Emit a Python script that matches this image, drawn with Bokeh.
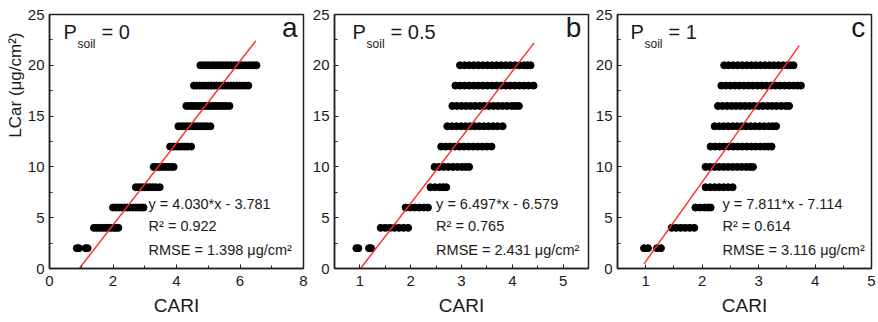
from bokeh.plotting import figure
from bokeh.layouts import row
from bokeh.models import Range1d, SingleIntervalTicker, Label, Title
from bokeh.embed import file_html
from bokeh.resources import INLINE

# ---------------- data ----------------
lcar_levels = [2, 4, 6, 8, 10, 12, 14, 16, 18, 20]

# CARI values per LCar level (rows), panel a (Psoil = 0)
cari_a = [
    [0.86, 0.93, 1.14, 1.20],
    [1.40, 1.49, 1.58, 1.67, 1.76, 1.85, 1.94, 2.03, 2.10, 2.17],
    [2.00, 2.09, 2.18, 2.27, 2.36, 2.45, 2.54, 2.63, 2.72, 2.81, 2.88, 2.96],
    [2.72, 2.81, 2.90, 2.99, 3.08, 3.17, 3.26, 3.35, 3.47],
    [3.28, 3.37, 3.46, 3.55, 3.64, 3.73, 3.82, 3.91],
    [3.80, 3.89, 3.98, 4.07, 4.16, 4.25, 4.34, 4.46],
    [4.06, 4.15, 4.24, 4.33, 4.42, 4.51, 4.60, 4.69, 4.78, 4.87, 4.96, 5.07],
    [4.31, 4.40, 4.49, 4.58, 4.67, 4.76, 4.85, 4.94, 5.03, 5.12, 5.21, 5.30, 5.39, 5.48, 5.57, 5.67],
    [4.55, 4.64, 4.73, 4.82, 4.91, 5.00, 5.09, 5.18, 5.27, 5.36, 5.45, 5.54, 5.63, 5.72, 5.81, 5.90, 5.99, 6.08, 6.17, 6.26],
    [4.75, 4.84, 4.93, 5.02, 5.11, 5.19, 5.28, 5.37, 5.46, 5.55, 5.63, 5.72, 5.81, 5.90, 5.99, 6.08, 6.17, 6.26, 6.35, 6.44, 6.52],
]
# panel b (Psoil = 0.5)
cari_b = [
    [0.93, 0.97, 1.18, 1.22],
    [1.41, 1.50, 1.59, 1.68, 1.77, 1.86, 1.95],
    [1.90, 1.99, 2.08, 2.17, 2.26, 2.34],
    [2.39, 2.48, 2.57, 2.64, 2.70],
    [2.47, 2.56, 2.65, 2.74, 2.83, 2.92, 3.01, 3.08, 3.15],
    [2.60, 2.69, 2.78, 2.87, 2.96, 3.05, 3.14, 3.23, 3.32, 3.41, 3.50, 3.59],
    [2.72, 2.81, 2.90, 2.99, 3.08, 3.17, 3.26, 3.35, 3.44, 3.53, 3.62, 3.71, 3.81],
    [2.82, 2.91, 3.00, 3.09, 3.18, 3.27, 3.36, 3.45, 3.54, 3.63, 3.72, 3.81, 3.90, 3.99, 4.06, 4.13],
    [2.88, 2.97, 3.06, 3.15, 3.24, 3.33, 3.42, 3.51, 3.60, 3.69, 3.78, 3.87, 3.96, 4.05, 4.14, 4.23, 4.32, 4.42],
    [2.97, 3.06, 3.15, 3.24, 3.33, 3.42, 3.51, 3.60, 3.69, 3.78, 3.87, 3.96, 4.05, 4.14, 4.23, 4.30, 4.36],
]
# panel c (Psoil = 1)
cari_c = [
    [0.97, 1.04, 1.20, 1.27],
    [1.46, 1.54, 1.62, 1.70, 1.78, 1.86],
    [1.88, 1.96, 2.04, 2.10, 2.15],
    [2.06, 2.14, 2.22, 2.30, 2.38, 2.46, 2.54],
    [2.06, 2.14, 2.22, 2.30, 2.38, 2.46, 2.54, 2.62, 2.70, 2.78, 2.85, 2.90],
    [2.15, 2.23, 2.31, 2.39, 2.47, 2.55, 2.63, 2.71, 2.79, 2.87, 2.95, 3.03, 3.11, 3.17, 3.23],
    [2.22, 2.30, 2.38, 2.46, 2.54, 2.62, 2.70, 2.78, 2.86, 2.94, 3.02, 3.10, 3.18, 3.25, 3.31],
    [2.28, 2.36, 2.44, 2.52, 2.60, 2.68, 2.76, 2.84, 2.92, 3.00, 3.08, 3.16, 3.24, 3.32, 3.40, 3.48, 3.54],
    [2.34, 2.42, 2.50, 2.58, 2.66, 2.74, 2.82, 2.90, 2.98, 3.06, 3.14, 3.22, 3.30, 3.38, 3.46, 3.54, 3.62, 3.69, 3.75],
    [2.39, 2.47, 2.55, 2.63, 2.71, 2.79, 2.87, 2.95, 3.03, 3.11, 3.19, 3.27, 3.35, 3.43, 3.51, 3.57, 3.62],
]

psoil_labels = ["0", "0.5", "1"]
panel_letters = ["a", "b", "c"]
slopes = [4.030, 6.497, 7.811]
intercepts = [-3.781, -6.579, -7.114]
r2_values = [0.922, 0.765, 0.614]
rmse_values = [1.398, 2.431, 3.116]
fit_x_start = [0.938, 1.013, 0.97]
fit_x_end = [6.50, 4.43, 3.72]

x_ranges = [(0, 8), (0.5, 5.5), (0.5, 5.0)]
x_intervals = [2, 1, 1]

# ---------------- style / layout ----------------
FONT = "Liberation Sans"
TXT = "#1a1a1a"
borders = [(49, 5), (26, 4), (25, 7)]
p_pos = [0.44, 0.856, 0.73]          # x of "P" label (data units)
letter_pos = [7.81, 5.36, 4.89]      # right edge of panel letter
ann_pos = [3.12, 2.5, 2.36]          # left of the regression text


def make_panel(i, rows):
    lb, rb = borders[i]
    p = figure(frame_width=254, frame_height=254, output_backend="svg",
               toolbar_location=None, min_border_left=lb, min_border_right=rb,
               min_border_top=14, min_border_bottom=54,
               x_range=Range1d(*x_ranges[i]), y_range=Range1d(0, 25))
    p.xgrid.visible = False
    p.ygrid.visible = False
    p.outline_line_color = "#222222"
    p.outline_line_width = 1.5
    p.background_fill_color = "white"
    p.border_fill_color = "white"

    p.xaxis.ticker = SingleIntervalTicker(interval=x_intervals[i], num_minor_ticks=2)
    p.yaxis.ticker = SingleIntervalTicker(interval=5, num_minor_ticks=2)
    for ax in (p.xaxis[0], p.yaxis[0]):
        ax.axis_line_color = "#222222"
        ax.axis_line_width = 1.5
        ax.major_tick_in = 4
        ax.major_tick_out = 0
        ax.minor_tick_in = 3
        ax.minor_tick_out = 0
        ax.major_tick_line_color = "#222222"
        ax.minor_tick_line_color = "#222222"
        ax.major_label_text_font = FONT
        ax.major_label_text_font_size = "15px"
        ax.major_label_text_color = TXT
    p.yaxis.major_label_standoff = 5
    p.xaxis.major_label_standoff = 7
    p.xaxis.axis_label = "CARI"
    p.xaxis.axis_label_text_font = FONT
    p.xaxis.axis_label_text_font_size = "19px"
    p.xaxis.axis_label_text_font_style = "normal"
    p.xaxis.axis_label_text_color = TXT
    p.xaxis.axis_label_standoff = 6

    # scatter rows
    xs, ys = [], []
    for lvl, vals in zip(lcar_levels, rows):
        xs.extend(vals)
        ys.extend([lvl] * len(vals))
    p.scatter(xs, ys, size=7, color="black", marker="circle")

    # regression line
    x0, x1 = fit_x_start[i], fit_x_end[i]
    p.line([x0, x1], [slopes[i] * x0 + intercepts[i], slopes[i] * x1 + intercepts[i]],
           line_color="#ff2a2a", line_width=1.4)

    # P_soil label
    p.add_layout(Label(x=p_pos[i], y=22.15, text="P", text_font=FONT,
                       text_font_size="20px", text_color=TXT))
    p.add_layout(Label(x=p_pos[i], y=21.36, x_offset=14, text="soil", text_font=FONT,
                       text_font_size="12px", text_color=TXT))
    p.add_layout(Label(x=p_pos[i], y=22.15, x_offset=38, text="= " + psoil_labels[i],
                       text_font=FONT, text_font_size="20px", text_color=TXT))
    # panel letter
    p.add_layout(Label(x=letter_pos[i], y=22.15, text=panel_letters[i], text_font=FONT,
                       text_font_size="28px", text_color=TXT, text_align="right"))

    # regression text
    sign = "-" if intercepts[i] < 0 else "+"
    lines = [f"y = {slopes[i]:.3f}*x {sign} {abs(intercepts[i]):.3f}",
             f"R² = {r2_values[i]:.3f}",
             f"RMSE = {rmse_values[i]:.3f} μg/cm²"]
    for txt, yy in zip(lines, [5.61, 3.35, 1.08]):
        p.add_layout(Label(x=ann_pos[i], y=yy, text=txt, text_font=FONT,
                           text_font_size="14.5px", text_color=TXT))
    return p


pa = make_panel(0, cari_a)
pb = make_panel(1, cari_b)
pc = make_panel(2, cari_c)

pa.add_layout(Title(text="LCar (μg/cm²)", align="right", offset=18, standoff=0,
                    text_font=FONT, text_font_size="17px", text_font_style="normal",
                    text_color=TXT), "left")

layout = row(pa, pb, pc)
open("out.html", "w").write(file_html(layout, INLINE))
